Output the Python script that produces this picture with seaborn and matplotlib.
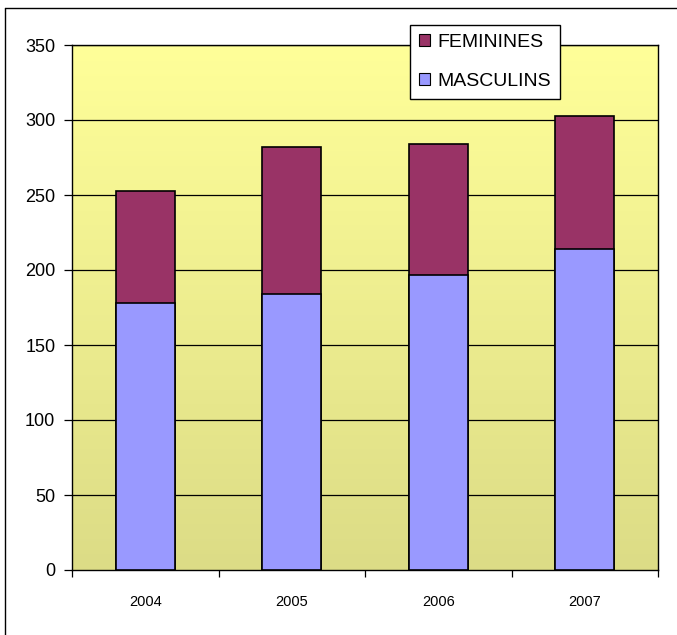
import numpy as np
import pandas as pd
import matplotlib
matplotlib.use("Agg")
import matplotlib.pyplot as plt
import seaborn as sns
from matplotlib.colors import LinearSegmentedColormap
from matplotlib.patches import Patch
from matplotlib.lines import Line2D

# --- data ---
years = ["2004", "2005", "2006", "2007"]
masculins = [178, 184, 197, 214]
feminines = [75, 98, 87, 89]

C_MASC = "#9999FF"
C_FEM = "#993366"

df = pd.DataFrame({"annee": years, "MASCULINS": masculins, "FEMININES": feminines})
df["total"] = df["MASCULINS"] + df["FEMININES"]

sns.set_theme(style="white")
plt.rcParams["font.family"] = ["Liberation Sans", "DejaVu Sans"]
plt.rcParams["text.color"] = "black"
plt.rcParams["xtick.color"] = "black"
plt.rcParams["ytick.color"] = "black"

fig = plt.figure(figsize=(6.77, 6.35), dpi=100)
ax = fig.add_axes([72 / 677, 1 - 570 / 635, (658 - 72) / 677, (570 - 45) / 635])

# yellow gradient background
grad = np.linspace(0, 1, 256).reshape(-1, 1)
cmap = LinearSegmentedColormap.from_list("bg", ["#DCDC86", "#FFFF99"])
ax.imshow(grad, cmap=cmap, origin="lower", aspect="auto",
          extent=[-0.5, 3.5, 0, 350], zorder=0)

for v in range(50, 351, 50):
    ax.axhline(v, color="black", lw=0.9, zorder=1)

# stacked bars: totals first (feminines colour), masculins on top
sns.barplot(data=df, x="annee", y="total", color=C_FEM, saturation=1,
            width=0.4, edgecolor="black", linewidth=1.2, ax=ax, zorder=2)
sns.barplot(data=df, x="annee", y="MASCULINS", color=C_MASC, saturation=1,
            width=0.4, edgecolor="black", linewidth=1.2, ax=ax, zorder=3)

ax.set_xlim(-0.5, 3.5)
ax.set_ylim(0, 350)
ax.set_xlabel("")
ax.set_ylabel("")
ax.set_yticks(range(0, 351, 50))
ax.tick_params(axis="y", labelsize=13, length=6, width=0.9, colors="black",
               direction="out", left=True, pad=6)
ax.set_xticks(range(4))
ax.set_xticklabels(years)
ax.tick_params(axis="x", labelsize=10.5, length=0, pad=18, colors="black")
ax.set_xticks([-0.5, 0.5, 1.5, 2.5, 3.5], minor=True)
ax.tick_params(axis="x", which="minor", length=5, width=0.9, color="black",
               direction="out", bottom=True)

for side in ["left", "right", "top", "bottom"]:
    ax.spines[side].set_visible(True)
    ax.spines[side].set_color("black")
    ax.spines[side].set_linewidth(1.0)

# legend in a box straddling the top of the plot area
handles = [Patch(facecolor=C_FEM, edgecolor="black", lw=0.8, label="FEMININES"),
           Patch(facecolor=C_MASC, edgecolor="black", lw=0.8, label="MASCULINS")]
leg = fig.legend(handles=handles, loc="upper left",
                 bbox_to_anchor=(410 / 677, 1 - 25 / 635),
                 frameon=True, fancybox=False, framealpha=1, edgecolor="black",
                 fontsize=14, handlelength=0.6, handleheight=0.6,
                 handletextpad=0.35, labelspacing=1.15, borderpad=0.45,
                 borderaxespad=0)
leg.get_frame().set_linewidth(1.0)
leg.set_zorder(10)

# outer frame (only left and top visible in the reference)
fig.add_artist(Line2D([5.5 / 677, 5.5 / 677], [0, 1 - 8 / 635],
                      transform=fig.transFigure, color="black", lw=1))
fig.add_artist(Line2D([5.5 / 677, 1], [1 - 8 / 635, 1 - 8 / 635],
                      transform=fig.transFigure, color="black", lw=1))

fig.savefig("out.png", dpi=100, facecolor="white")
